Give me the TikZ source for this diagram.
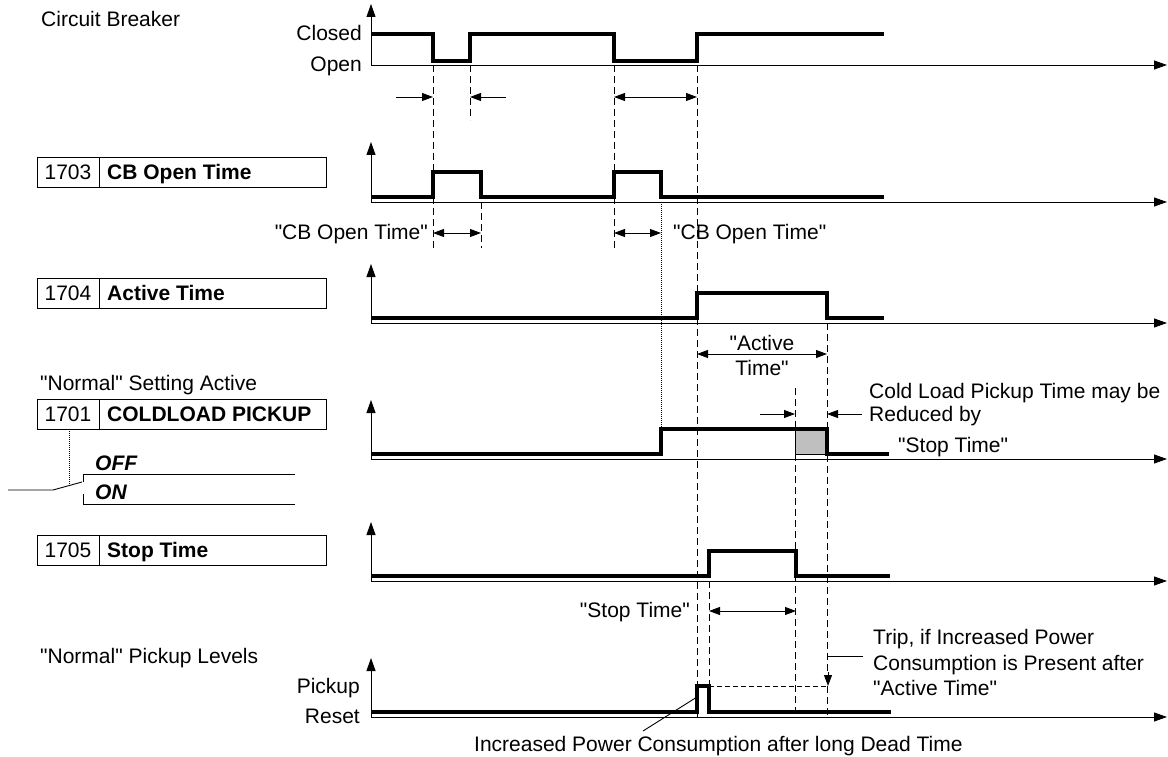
\documentclass[tikz,border=0pt]{standalone}
\usepackage{fontspec}
\setmainfont{Liberation Sans}[Ligatures=TeXOff]
\usetikzlibrary{arrows.meta,positioning}
\newcommand{\addrbox}[4]{% name, top, number, title
  \draw[pbox] (37,#2) rectangle (326,#2+30);
  \draw[pbox] (99,#2) -- (99,#2+30);
  \node[txt] (#1num) at (68,#2+15) {#3};
  \node[txt, anchor=west] (#1tit) at (107,#2+15) {\bfseries #4};
}
\tikzset{
  sig/.style={line width=3.2pt, line join=miter},
  taxis/.style={line width=0.9pt, {Triangle[length=13pt,width=9pt]}-{Triangle[length=13pt,width=9pt]}},
  guide/.style={line width=0.9pt, dash pattern=on 7pt off 4pt},
  dotguide/.style={line width=0.9pt, dash pattern=on 1pt off 1pt},
  dim/.style={line width=0.9pt, {Triangle[length=11pt,width=8pt]}-{Triangle[length=11pt,width=8pt]}},
  dimr/.style={line width=0.9pt, -{Triangle[length=11pt,width=8pt]}},
  pbox/.style={draw, line width=0.9pt},
  txt/.style={font=\fontsize{21}{25}\selectfont, inner sep=0pt, text height=14pt, text depth=0pt}
}
\begin{document}
\begin{tikzpicture}[x=1pt, y=-1pt]
\useasboundingbox (0,0) rectangle (1168,757);

% time axes
\foreach \ya/\yt in {65/4, 202/142, 323/264, 459/400, 581/522, 717/658}
  \draw[taxis] (371,\yt) -- (371,\ya) -- (1167,\ya);

% guide lines
\draw[guide] (433,65) -- (433,248);
\draw[guide] (470,65) -- (470,120);
\draw[guide] (614,65) -- (614,248);
\draw[guide] (697,65) -- (697,717);
\draw[guide] (481,202) -- (481,248);
\draw[dotguide] (661,202) -- (661,429);
\draw[guide] (827,323) -- (827,717);
\draw[guide] (795,388) -- (795,717);
\draw[guide] (709,581) -- (709,686);

% circuit breaker
\node[txt, anchor=west] (cb) at (41,20) {Circuit Breaker};
\node[txt, anchor=east] (closed) at (362,34) {Closed};
\node[txt, anchor=east] (open) at (362,65) {Open};
\draw[sig] (371,34) -- (433,34) -- (433,61) -- (470,61) -- (470,34) -- (614,34)
  -- (614,61) -- (697,61) -- (697,34) -- (884,34);
\draw[dimr] (396,97) -- (433,97);
\draw[dimr] (506,97) -- (470,97);
\draw[dim] (614,97) -- (697,97);

% 1703
\addrbox{cbo}{157}{1703}{CB Open Time}
\draw[sig] (371,197) -- (433,197) -- (433,172) -- (481,172) -- (481,197) -- (614,197)
  -- (614,172) -- (661,172) -- (661,197) -- (884,197);
\node[txt, anchor=east] (cbol) at (428,233) {"CB Open Time"};
\draw[dim] (433,233) -- (481,233);
\draw[dim] (614,233) -- (661,233);
\node[txt, anchor=west] (cbor) at (673,233) {"CB Open Time"};

% 1704
\addrbox{act}{278}{1704}{Active Time}
\draw[sig] (371,318) -- (697,318) -- (697,293) -- (827,293) -- (827,318) -- (884,318);
\node[txt] (acta) at (762,343) {"Active};
\node[txt, below=11pt of acta] (actb) {Time"};
\draw[dim] (697,354) -- (827,354);

% 1701
\node[txt, anchor=west] (normset) at (40,383) {"Normal" Setting Active};
\addrbox{cold}{399}{1701}{COLDLOAD PICKUP}
\draw[dotguide] (69,429) -- (69,486);
\draw[line width=0.9pt] (8,490) -- (53,490) -- (82,482);
\draw[line width=0.9pt] (83,482) -- (83,474) -- (295,474);
\draw[line width=0.9pt] (83,494) -- (83,504) -- (295,504);
\node[txt, anchor=west] (off) at (95,463) {\bfseries\itshape OFF};
\node[txt, anchor=west] (on) at (95,492) {\bfseries\itshape ON};
\filldraw[fill=black!25, line width=0.9pt] (795,429) rectangle (827,454);
\draw[sig] (371,454) -- (661,454) -- (661,429) -- (827,429) -- (827,454) -- (889,454);
\draw[dimr] (760,414) -- (795,414);
\draw[dimr] (862,414) -- (827,414);
\node[txt, anchor=west] (red1) at (869,391) {Cold Load Pickup Time may be};
\node[txt, anchor=west] (red2) at (869,414) {Reduced by};
\node[txt, anchor=west] (red3) at (898,445) {"Stop Time"};

% 1705
\addrbox{stp}{535}{1705}{Stop Time}
\draw[sig] (371,576) -- (709,576) -- (709,551) -- (796,551) -- (796,576) -- (890,576);
\node[txt, anchor=east] (stpl) at (690,610) {"Stop Time"};
\draw[dim] (709,611) -- (796,611);

% pickup levels
\node[txt, anchor=west] (normpu) at (40,656) {"Normal" Pickup Levels};
\node[txt, anchor=east] (pickup) at (360,686) {Pickup};
\node[txt, anchor=east] (reset) at (360,716) {Reset};
\draw[sig] (371,712) -- (697,712) -- (697,686) -- (709,686) -- (709,712) -- (891,712);
\draw[line width=0.9pt, dash pattern=on 5pt off 3pt] (709,686) -- (827,686);
\draw[line width=0.9pt] (863,656) -- (828,656);
\draw[dimr] (828,672) -- (828,686);
\node[txt, anchor=west] (trip1) at (873,637) {Trip, if Increased Power};
\node[txt, anchor=west] (trip2) at (873,663) {Consumption is Present after};
\node[txt, anchor=west] (trip3) at (873,688) {"Active Time"};
\node[txt, anchor=west] (incr) at (474,744) {Increased Power Consumption after long Dead Time};
\draw[line width=0.9pt] (697,697) -- (643,731);
\end{tikzpicture}
\end{document}
